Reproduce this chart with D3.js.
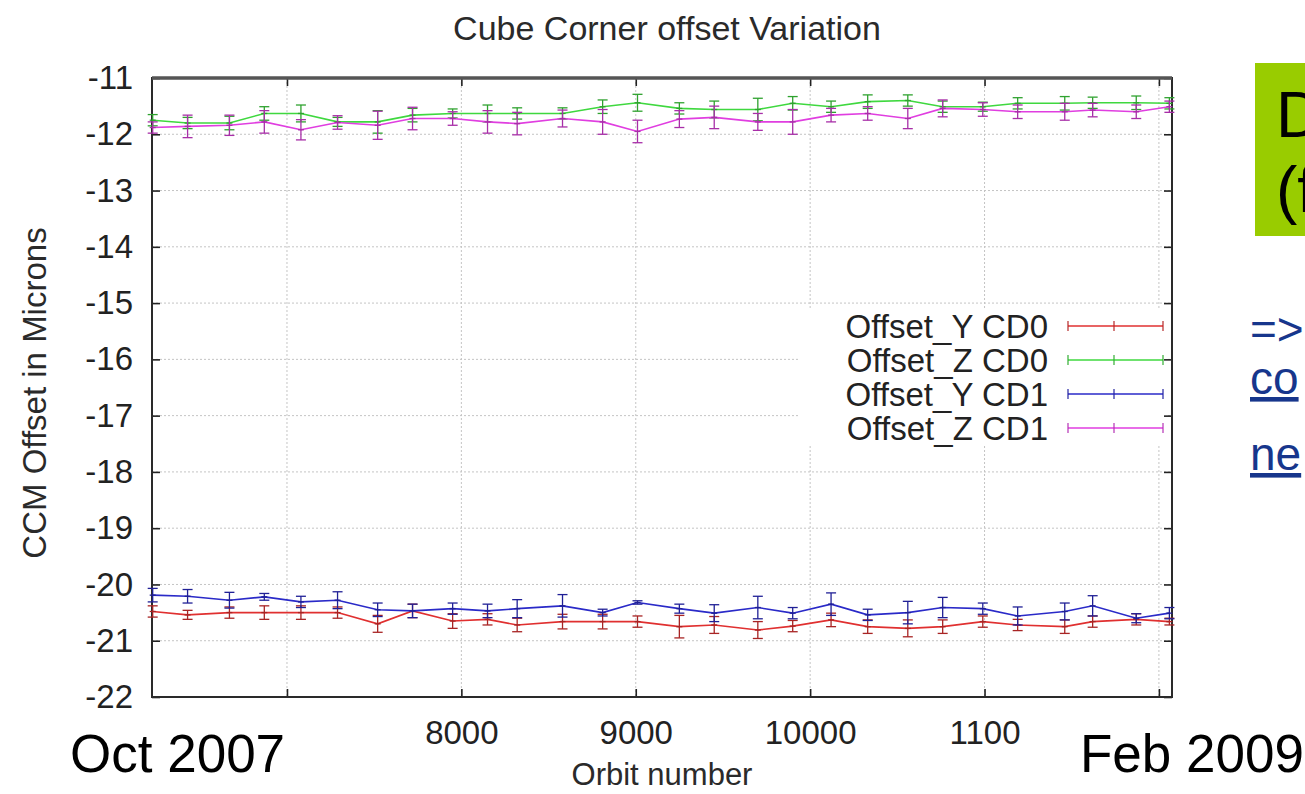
<!DOCTYPE html>
<html>
<head>
<meta charset="utf-8">
<script src="https://cdn.jsdelivr.net/npm/d3@7"></script>
<style>
  body { margin: 0; background: #fff; }
  text { font-family: "Liberation Sans", Arial, sans-serif; }
</style>
</head>
<body>
<svg width="1305" height="794"></svg>
<script>
// orbit numbers of the measurements (shared by all four series)
var orbits = [6230, 6430, 6670, 6870, 7080, 7290, 7520, 7720, 7950, 8150, 8320, 8580, 8810, 9010,
              9250, 9450, 9700, 9900, 10120, 10330, 10560, 10760, 10990, 11190, 11460, 11620, 11870, 12060];

var offsetYCD0 = [-20.48, -20.54, -20.50, -20.50, -20.50, -20.50, -20.70, -20.47, -20.65, -20.62, -20.72, -20.66, -20.66, -20.66,
                  -20.75, -20.72, -20.81, -20.74, -20.63, -20.75, -20.78, -20.75, -20.66, -20.72, -20.75, -20.66, -20.62, -20.66];
var errYCD0 = [0.10, 0.08, 0.10, 0.12, 0.12, 0.10, 0.15, 0.12, 0.13, 0.10, 0.12, 0.13, 0.13, 0.10,
               0.20, 0.15, 0.15, 0.10, 0.12, 0.12, 0.15, 0.12, 0.10, 0.10, 0.12, 0.10, 0.10, 0.06];

var offsetZCD0 = [-11.75, -11.80, -11.80, -11.63, -11.63, -11.78, -11.78, -11.66, -11.63, -11.63, -11.63, -11.63, -11.51, -11.44,
                  -11.54, -11.56, -11.56, -11.45, -11.51, -11.42, -11.40, -11.51, -11.51, -11.45, -11.45, -11.44, -11.44, -11.45];
var errZCD0 = [0.10, 0.10, 0.12, 0.12, 0.15, 0.08, 0.20, 0.12, 0.08, 0.15, 0.10, 0.10, 0.12, 0.15,
               0.10, 0.15, 0.20, 0.12, 0.10, 0.12, 0.10, 0.10, 0.08, 0.10, 0.12, 0.10, 0.12, 0.10];

var offsetYCD1 = [-20.19, -20.21, -20.28, -20.22, -20.31, -20.28, -20.45, -20.47, -20.43, -20.47, -20.43, -20.38, -20.50, -20.32,
                  -20.43, -20.51, -20.41, -20.51, -20.35, -20.54, -20.50, -20.41, -20.43, -20.56, -20.48, -20.38, -20.60, -20.51];
var errYCD1 = [0.12, 0.12, 0.14, 0.06, 0.10, 0.15, 0.12, 0.12, 0.10, 0.12, 0.16, 0.20, 0.06, 0.03,
               0.08, 0.15, 0.20, 0.10, 0.20, 0.10, 0.20, 0.18, 0.10, 0.16, 0.15, 0.18, 0.08, 0.10];

var offsetZCD1 = [-11.88, -11.86, -11.84, -11.78, -11.92, -11.79, -11.84, -11.72, -11.72, -11.78, -11.81, -11.72, -11.78, -11.95,
                  -11.73, -11.70, -11.78, -11.78, -11.66, -11.63, -11.72, -11.54, -11.56, -11.60, -11.60, -11.57, -11.60, -11.51];
var errZCD1 = [0.10, 0.20, 0.18, 0.20, 0.18, 0.12, 0.25, 0.20, 0.12, 0.20, 0.20, 0.15, 0.22, 0.20,
               0.15, 0.20, 0.15, 0.22, 0.12, 0.12, 0.18, 0.15, 0.12, 0.12, 0.15, 0.12, 0.12, 0.10];

var seriesNames = ["Offset_Y CD0", "Offset_Z CD0", "Offset_Y CD1", "Offset_Z CD1"];
var seriesColors = ["#e03030", "#3fd83f", "#2a2ac8", "#e03ee0"];

var xTickValues = [7000, 8000, 9000, 10000, 11000, 12000];
var xTickLabels = ["", "8000", "9000", "10000", "1100", ""];
var yTickValues = [-22, -21, -20, -19, -18, -17, -16, -15, -14, -13, -12, -11];

var svg = d3.select("svg"),
    plotLeft = 152, plotRight = 1172, plotTop = 78, plotBottom = 697;

var x = d3.scaleLinear().domain([6226, 12075]).range([plotLeft, plotRight]);
var y = d3.scaleLinear().domain([-22, -11]).range([plotBottom, plotTop]);

var series = [
  {name: seriesNames[0], color: seriesColors[0], v: offsetYCD0, e: errYCD0},
  {name: seriesNames[1], color: seriesColors[1], v: offsetZCD0, e: errZCD0},
  {name: seriesNames[2], color: seriesColors[2], v: offsetYCD1, e: errYCD1},
  {name: seriesNames[3], color: seriesColors[3], v: offsetZCD1, e: errZCD1}
].map(function(s) {
  s.values = orbits.map(function(o, i) { return {orbit: o, val: s.v[i], err: s.e[i]}; });
  return s;
});

// grid
var grid = svg.append("g").attr("stroke", "#c4c4c4").attr("stroke-width", 1).attr("stroke-dasharray", "2,2");
grid.selectAll(".gx").data(xTickValues).enter().append("line")
    .attr("x1", function(d) { return x(d); }).attr("x2", function(d) { return x(d); })
    .attr("y1", plotTop).attr("y2", plotBottom);
grid.selectAll(".gy").data(yTickValues.slice(1, -1)).enter().append("line")
    .attr("y1", function(d) { return y(d); }).attr("y2", function(d) { return y(d); })
    .attr("x1", plotLeft).attr("x2", plotRight);

// legend background hides the grid behind it
svg.append("rect").attr("x", 800).attr("y", 309).attr("width", 368).attr("height", 137).attr("fill", "#fff");

// axes, ticks pointing inwards, mirrored on top and right
var axB = svg.append("g").attr("transform", "translate(0," + plotBottom + ")")
    .call(d3.axisBottom(x).tickValues(xTickValues).tickSize(-8)
      .tickFormat(function(d, i) { return xTickLabels[i]; }));
var axT = svg.append("g").attr("transform", "translate(0," + plotTop + ")")
    .call(d3.axisTop(x).tickValues(xTickValues).tickSize(-8).tickFormat(""));
var axL = svg.append("g").attr("transform", "translate(" + plotLeft + ",0)")
    .call(d3.axisLeft(y).tickValues(yTickValues).tickSize(-8).tickFormat(function(d) { return String(d); }));
var axR = svg.append("g").attr("transform", "translate(" + plotRight + ",0)")
    .call(d3.axisRight(y).tickValues(yTickValues).tickSize(-8).tickFormat(""));

[axB, axT, axL, axR].forEach(function(a) {
  a.select(".domain").remove();
  a.selectAll(".tick line").attr("stroke", "#222").attr("stroke-width", 1.6);
  a.selectAll(".tick text").attr("fill", "#222").style("font-size", "33px")
    .style("font-family", "'Liberation Sans', Arial, sans-serif");
});
axB.selectAll(".tick text").attr("dy", "0.71em").attr("y", 24);
axL.selectAll(".tick text").attr("x", -19);

// frame
svg.append("rect").attr("x", plotLeft).attr("y", plotTop)
    .attr("width", plotRight - plotLeft).attr("height", plotBottom - plotTop)
    .attr("fill", "none").attr("stroke", "#2a2a2a").attr("stroke-width", 2);
svg.append("line").attr("x1", plotLeft).attr("x2", plotRight).attr("y1", plotTop).attr("y2", plotTop)
    .attr("stroke", "#555").attr("stroke-width", 3.5);

// data: lines with error bars
var line = d3.line()
    .x(function(d) { return x(d.orbit); })
    .y(function(d) { return y(d.val); });

var plot = svg.selectAll(".series").data(series).enter().append("g").attr("class", "series");

plot.append("path")
    .attr("d", function(d) { return line(d.values); })
    .attr("fill", "none")
    .attr("stroke", function(d) { return d.color; })
    .attr("stroke-width", 1.6);

plot.each(function(s) {
  var g = d3.select(this);
  var barColor = d3.color(s.color).darker(0.8).toString();
  var bars = g.selectAll(".eb").data(s.values).enter().append("g")
      .attr("stroke", barColor).attr("stroke-width", 1.3);
  bars.append("line")
      .attr("x1", function(d) { return x(d.orbit); }).attr("x2", function(d) { return x(d.orbit); })
      .attr("y1", function(d) { return y(d.val - d.err); }).attr("y2", function(d) { return y(d.val + d.err); });
  bars.append("line")
      .attr("x1", function(d) { return x(d.orbit) - 5; }).attr("x2", function(d) { return x(d.orbit) + 5; })
      .attr("y1", function(d) { return y(d.val - d.err); }).attr("y2", function(d) { return y(d.val - d.err); });
  bars.append("line")
      .attr("x1", function(d) { return x(d.orbit) - 5; }).attr("x2", function(d) { return x(d.orbit) + 5; })
      .attr("y1", function(d) { return y(d.val + d.err); }).attr("y2", function(d) { return y(d.val + d.err); });
  bars.append("line")
      .attr("x1", function(d) { return x(d.orbit) - 3; }).attr("x2", function(d) { return x(d.orbit) + 3; })
      .attr("y1", function(d) { return y(d.val); }).attr("y2", function(d) { return y(d.val); });
});

// legend
var leg = svg.selectAll(".leg").data(series).enter().append("g")
    .attr("transform", function(d, i) { return "translate(0," + (326 + i * 34) + ")"; });
leg.append("text")
    .attr("x", 1048).attr("dy", "0.35em").attr("text-anchor", "end")
    .style("font-size", "33px").attr("fill", "#222")
    .text(function(d) { return d.name; });
leg.append("line").attr("x1", 1068).attr("x2", 1163)
    .attr("stroke", function(d) { return d.color; }).attr("stroke-width", 1.6);
[1068, 1114, 1163].forEach(function(px) {
  leg.append("line").attr("x1", px).attr("x2", px).attr("y1", -5).attr("y2", 5)
      .attr("stroke", function(d) { return d3.color(d.color).darker(0.6); }).attr("stroke-width", 1.2);
});

// titles
svg.append("text").attr("x", 667).attr("y", 40).attr("text-anchor", "middle")
    .style("font-size", "34px").attr("fill", "#2a2a2a").text("Cube Corner offset Variation");
svg.append("text").attr("transform", "translate(46,393) rotate(-90)").attr("text-anchor", "middle")
    .style("font-size", "33px").attr("fill", "#2a2a2a").text("CCM Offset in Microns");
svg.append("text").attr("x", 662).attr("y", 785).attr("text-anchor", "middle")
    .style("font-size", "31px").attr("fill", "#2a2a2a").text("Orbit number");

// date annotations at both ends of the axis
svg.append("text").attr("x", 70).attr("y", 772).style("font-size", "53px").attr("fill", "#000").text("Oct 2007");
svg.append("text").attr("x", 1080).attr("y", 772).style("font-size", "53px").attr("fill", "#000").text("Feb 2009");

// slide fragments cut off at the right edge
svg.append("rect").attr("x", 1255).attr("y", 63).attr("width", 60).attr("height", 173).attr("fill", "#99cc00");
svg.append("text").attr("x", 1276).attr("y", 137).style("font-size", "64px").attr("fill", "#000").text("D");
svg.append("text").attr("x", 1276).attr("y", 212).style("font-size", "64px").attr("fill", "#000").text("(f");
var navy = "#17368c";
svg.append("text").attr("x", 1250).attr("y", 345).style("font-size", "46px").attr("fill", navy).text("=>");
svg.append("text").attr("x", 1250).attr("y", 394).style("font-size", "46px").attr("fill", navy)
    .attr("text-decoration", "underline").text("co");
svg.append("text").attr("x", 1250).attr("y", 470).style("font-size", "46px").attr("fill", navy)
    .attr("text-decoration", "underline").text("ne");
</script>
</body>
</html>
